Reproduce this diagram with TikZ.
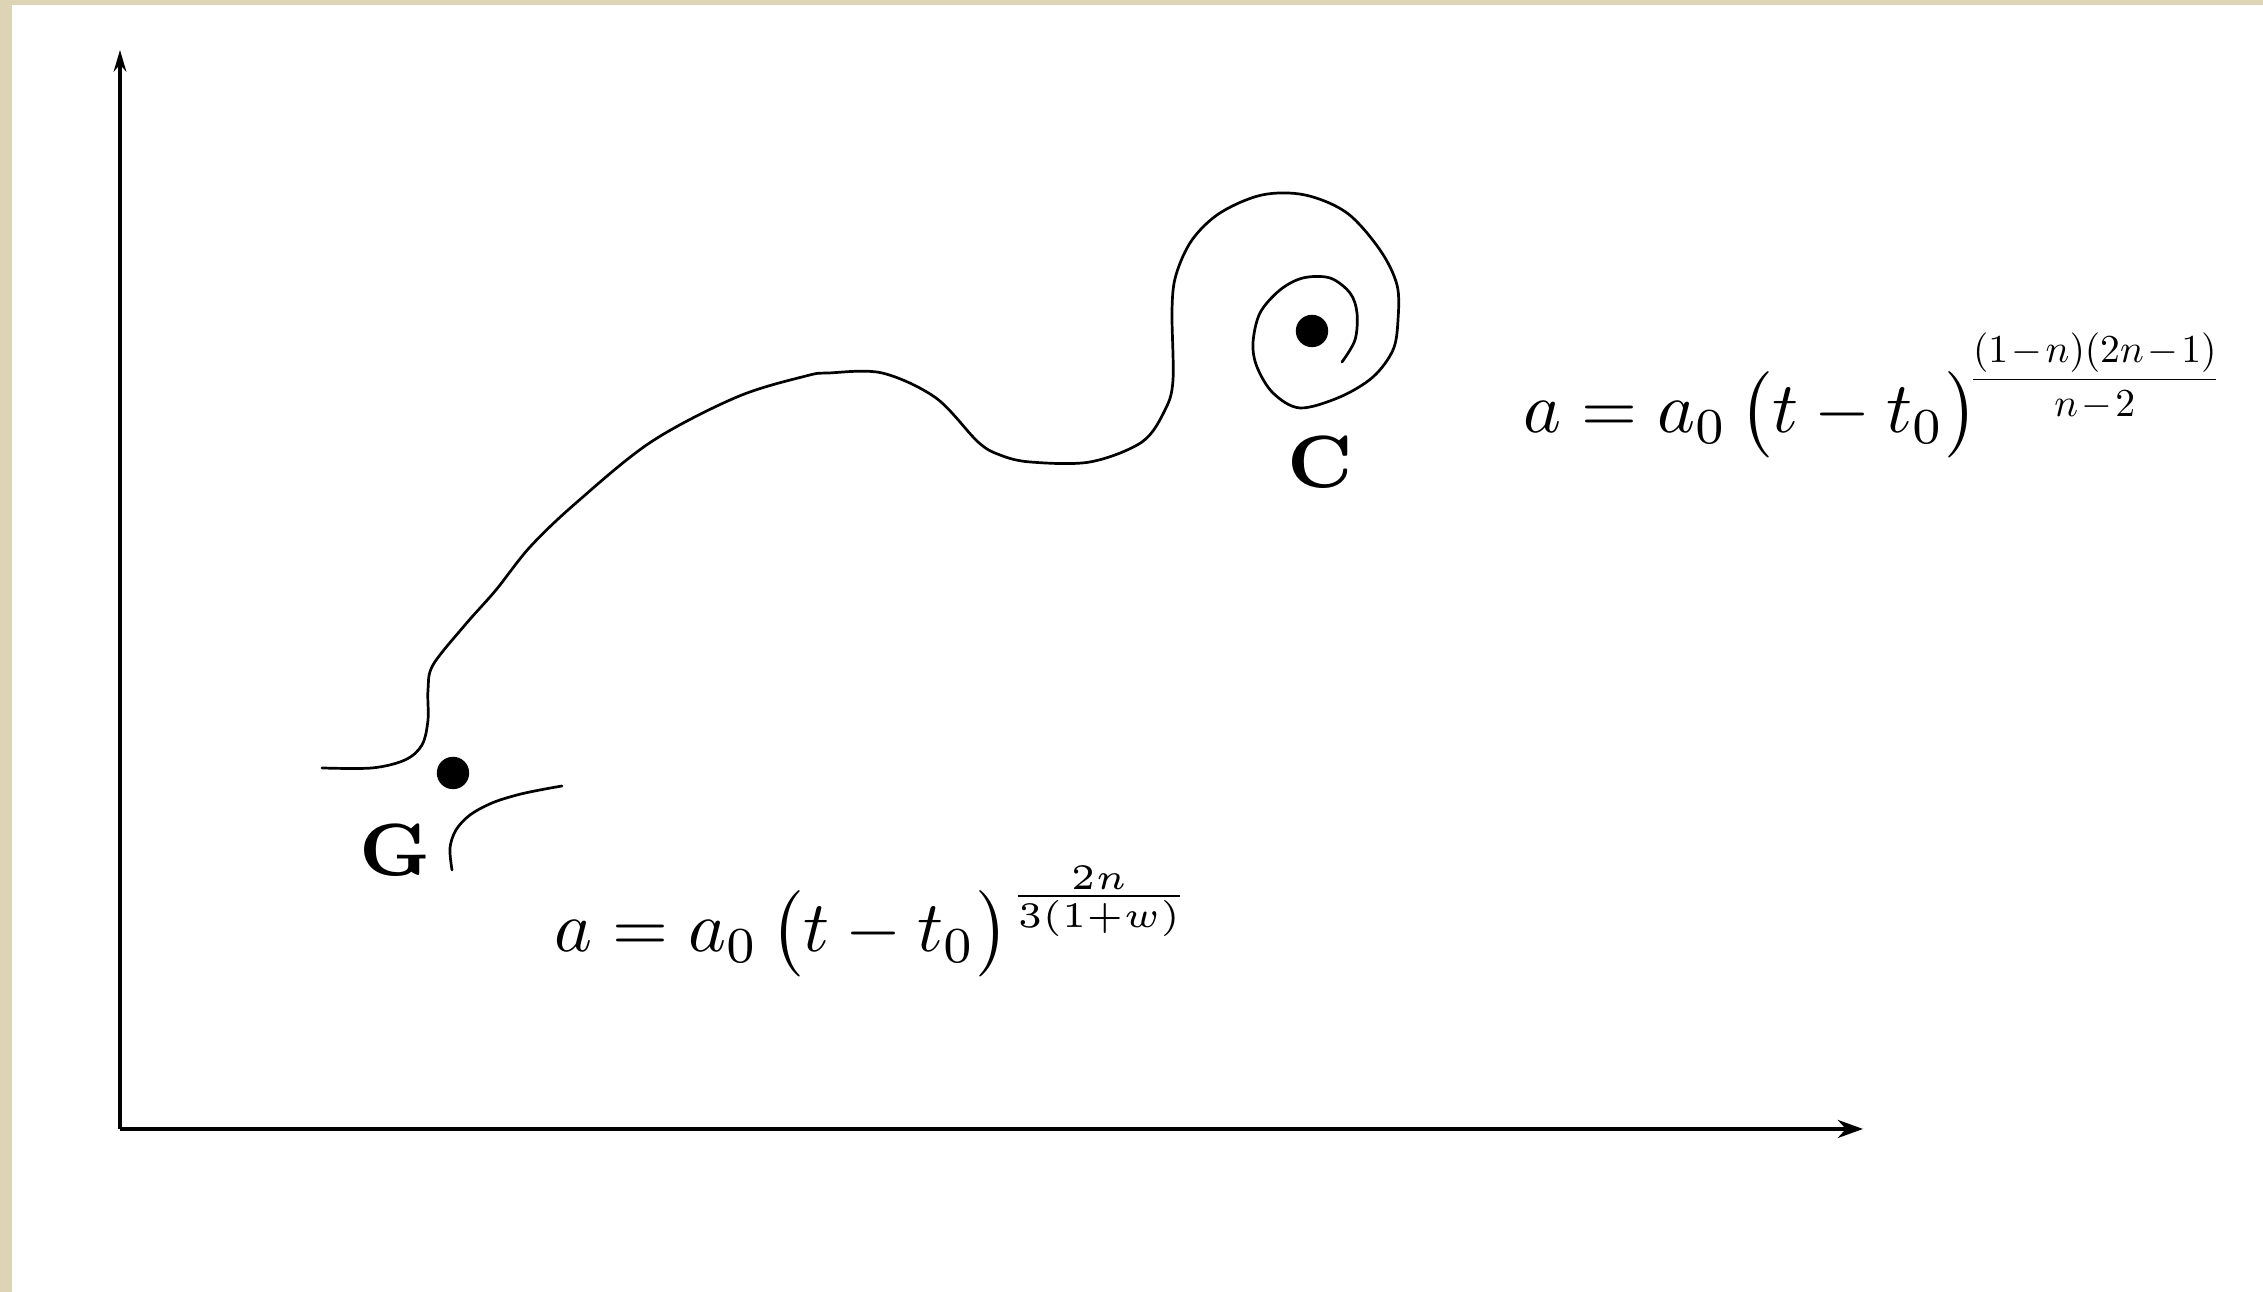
\documentclass[tikz,border=0pt]{standalone}
\usepackage{graphicx}
\usetikzlibrary{arrows.meta}
\definecolor{beige}{RGB}{221,212,181}
\begin{document}
\begin{tikzpicture}[x=0.1111pt,y=-0.1111pt,
  curve/.style={line width=0.3pt, line join=round, line cap=round},
  axisline/.style={line width=0.42pt},
  dotmark/.style={circle, fill=black, inner sep=0pt, minimum size=3.6pt},
  lbl/.style={font=\fontsize{8.2}{10}\selectfont\bfseries, inner sep=0pt, anchor=base},
  eq/.style={inner sep=0pt, anchor=base west, scale=0.8}]
\useasboundingbox (0,0) rectangle (2263,1292);
\fill[white] (0,0) rectangle (2263,1292);
\fill[beige] (0,0) rectangle (2263,5);
\fill[beige] (0,0) rectangle (12,1292);
% axes
\coordinate (O) at (120,1129);
\coordinate (ytip) at (120,50);
\coordinate (xtip) at (1863,1129);
\draw[axisline, -{Stealth[length=2.4pt,width=1.4pt]}] (O) -- (ytip);
\draw[axisline, -{Stealth[length=2.8pt,width=2pt]}] (O) -- (xtip);
% main curve with spiral
\draw[curve] plot[smooth, tension=0.55] coordinates {
 (322,768) (372,768) (405,760) (422,745) (428,720) (428,690) (433,665)
 (465,625) (496,590) (530,547) (576,503) (651,442) (737,397) (806,376)
 (829,373) (882,373) (936,398) (978,442) (1000,455) (1030,462) (1090,462)
 (1142,442) (1165,410) (1173,380) (1172,310) (1176,275) (1192,240)
 (1220,213) (1262,195) (1305,195) (1347,213) (1380,250) (1397,285)
 (1398,320) (1393,350) (1373,377) (1340,397) (1300,408) (1273,393)
 (1257,367) (1253,343) (1260,313) (1280,290) (1303,278) (1330,278)
 (1350,293) (1357,313) (1355,340) (1342,362)};
% small arc near G
\draw[curve] plot[smooth, tension=0.55] coordinates {
 (452,870) (450,848) (456,830) (470,815) (492,803) (517,795) (540,790) (562,786)};
% points
\node[dotmark] (gdot) at (453,773) {};
\node[dotmark] (cdot) at (1312,331) {};
\node[lbl] (G) at (395,876) {G};
\node[lbl] (C) at (1320,488) {C};
% formulas
\node[eq] (eqG) at (553,952) {$a = a_0\,\bigl(t-t_0\bigr)^{\frac{2n}{3(1+w)}}$};
\node[eq] (eqC) at (1522,433) {$a = a_0\,\bigl(t-t_0\bigr)^{\!\scalebox{0.55}{$\medmuskip=1.5mu\displaystyle\frac{(1-n)(2n-1)}{n-2}$}}$};
\end{tikzpicture}
\end{document}
